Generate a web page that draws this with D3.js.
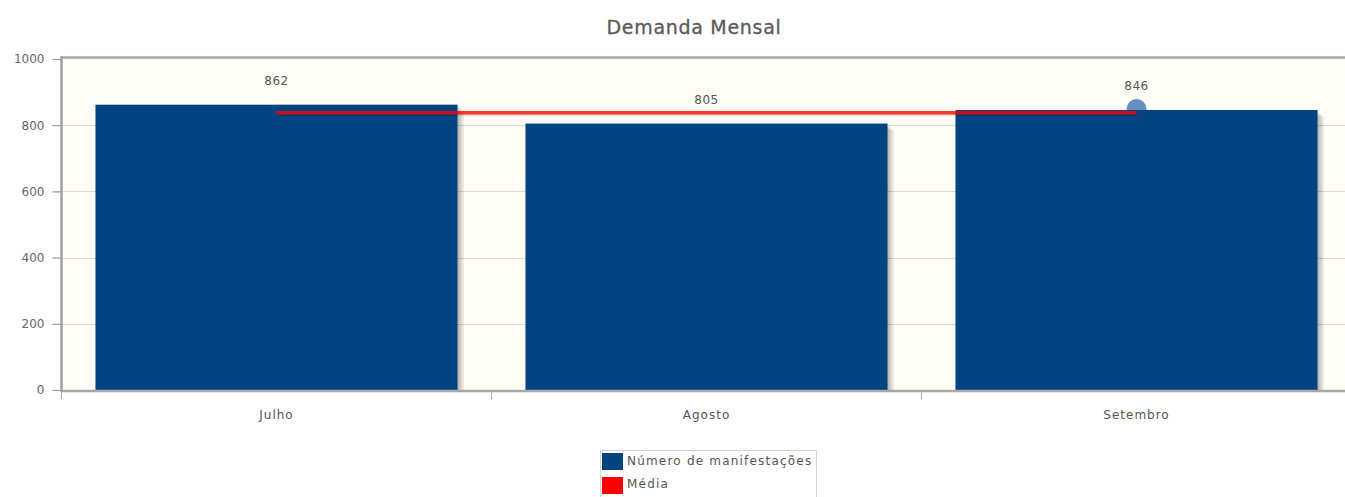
<!DOCTYPE html>
<html>
<head>
<meta charset="utf-8">
<script src="https://cdn.jsdelivr.net/npm/d3@7"></script>
<style>
html,body{margin:0;padding:0;background:#fff;overflow:hidden;}
text{font-family:"DejaVu Sans",sans-serif;}
</style>
</head>
<body>
<svg id="chart" width="1345" height="497"></svg>
<script>
const title = "Demanda Mensal";
const categories = ["Julho", "Agosto", "Setembro"];
const manifestacoes = [862, 805, 846];
const yTicks = [0, 200, 400, 600, 800, 1000];
const seriesNames = ["Número de manifestações", "Média"];
const seriesColors = ["#004381", "#ff0000"];
const media = d3.mean(manifestacoes);
const mediaValues = categories.map(() => media);

(function () {
const svg = d3.select("#chart");
const pLeft = 61.5, pTop = 59, pBottom = 390, step = 430;
const pRight = pLeft + step * categories.length;

const x = d3.scaleBand().domain(categories).range([pLeft, pRight])
  .paddingInner(0.158).paddingOuter(0.079);
const y = d3.scaleLinear().domain([0, 1000]).range([pBottom, pTop]);

// title
svg.append("text").attr("x", 694).attr("y", 34).attr("text-anchor", "middle")
  .attr("font-size", 19).attr("letter-spacing", 0.7).attr("fill", "#5a5a5a")
  .attr("stroke", "#5a5a5a").attr("stroke-width", 0.3).text(title);

// plot background
svg.append("rect").attr("x", pLeft).attr("y", pTop - 1).attr("width", pRight - pLeft).attr("height", pBottom - pTop + 1)
  .attr("fill", "#fffdf5");

// grid lines
svg.append("g").selectAll("line").data(yTicks.filter(d => d > 0 && d < 1000)).join("line")
  .attr("x1", pLeft).attr("x2", pRight).attr("y1", d => Math.round(y(d)) + 0.5).attr("y2", d => Math.round(y(d)) + 0.5)
  .attr("stroke", "#d9d9d9").attr("stroke-width", 1);

// top border
svg.append("line").attr("x1", pLeft).attr("x2", pRight).attr("y1", pTop - 1.5).attr("y2", pTop - 1.5)
  .attr("stroke", "#a8a8a8").attr("stroke-width", 2.5);

// y axis
const yAxis = d3.axisLeft(y).tickValues(yTicks).tickSize(9).tickPadding(8).tickFormat(d3.format("d"));
const gy = svg.append("g").attr("transform", `translate(${pLeft},0)`).call(yAxis);
gy.select(".domain").remove();
gy.selectAll(".tick line").attr("stroke", "#999").attr("stroke-width", 1.2);
gy.selectAll(".tick text").attr("font-size", 12).attr("fill", "#666").attr("font-family", "DejaVu Sans");
svg.append("line").attr("x1", pLeft).attr("x2", pLeft).attr("y1", pTop - 3).attr("y2", pBottom + 2)
  .attr("stroke", "#a0a0a0").attr("stroke-width", 2.5);

// highlight circle at Setembro
const cx = c => x(c) + x.bandwidth() / 2;
svg.append("circle").attr("cx", cx(categories[2])).attr("cy", y(manifestacoes[2]) - 1)
  .attr("r", 10).attr("fill", "#6591c4");

// bar shadows
const shadowG = svg.append("g");
for (let i = 1; i <= 4; i++) {
  shadowG.selectAll(null).data(manifestacoes).join("rect")
    .attr("x", (d, j) => x(categories[j]) + i * 1.6)
    .attr("y", d => y(d) + i * 1.6)
    .attr("width", x.bandwidth())
    .attr("height", d => pBottom - y(d) - i * 1.6)
    .attr("fill", "#000").attr("opacity", 0.07);
}

// bars
svg.append("g").selectAll("rect").data(manifestacoes).join("rect")
  .attr("x", (d, i) => x(categories[i]))
  .attr("y", d => y(d))
  .attr("width", x.bandwidth())
  .attr("height", d => pBottom - y(d))
  .attr("fill", seriesColors[0]);

// bottom axis line
svg.append("line").attr("x1", pLeft).attr("x2", pRight).attr("y1", pBottom + 1).attr("y2", pBottom + 1)
  .attr("stroke", "#a8a8a8").attr("stroke-width", 2.5);

// x ticks at boundaries
svg.append("g").selectAll("line").data(d3.range(categories.length + 1)).join("line")
  .attr("x1", i => pLeft + i * step).attr("x2", i => pLeft + i * step)
  .attr("y1", pBottom + 2).attr("y2", pBottom + 9)
  .attr("stroke", "#aaa").attr("stroke-width", 1);

// x labels
svg.append("g").selectAll("text").data(categories).join("text")
  .attr("x", d => cx(d)).attr("y", 419).attr("text-anchor", "middle")
  .attr("font-size", 12).attr("letter-spacing", 1).attr("fill", "#555").text(d => d);

// media line
const line = d3.line().x((d, i) => cx(categories[i])).y(d => y(d));
svg.append("path").datum(mediaValues).attr("d", line).attr("transform", "translate(1.5,2)")
  .attr("fill", "none").attr("stroke", "#000").attr("stroke-opacity", 0.1).attr("stroke-width", 3);
svg.append("path").datum(mediaValues).attr("d", line)
  .attr("fill", "none").attr("stroke", seriesColors[1]).attr("stroke-opacity", 0.78).attr("stroke-width", 3.5);

// value labels
svg.append("g").selectAll("text").data(manifestacoes).join("text")
  .attr("x", (d, i) => cx(categories[i])).attr("y", d => y(d) - 20).attr("text-anchor", "middle")
  .attr("font-size", 12).attr("letter-spacing", 0.5).attr("fill", "#555").text(d => d);

// legend
const lg = svg.append("g");
lg.append("rect").attr("x", 600.5).attr("y", 450.5).attr("width", 216).attr("height", 60)
  .attr("fill", "#fff").attr("stroke", "#d4d4d4");
seriesNames.forEach((n, i) => {
  lg.append("rect").attr("x", 602).attr("y", 453 + i * 24).attr("width", 21).attr("height", 17)
    .attr("fill", seriesColors[i]);
  lg.append("text").attr("x", 627).attr("y", 465 + i * 23).attr("font-size", 12)
    .attr("letter-spacing", 1.2).attr("fill", "#555").text(n);
});
})();
</script>
</body>
</html>
